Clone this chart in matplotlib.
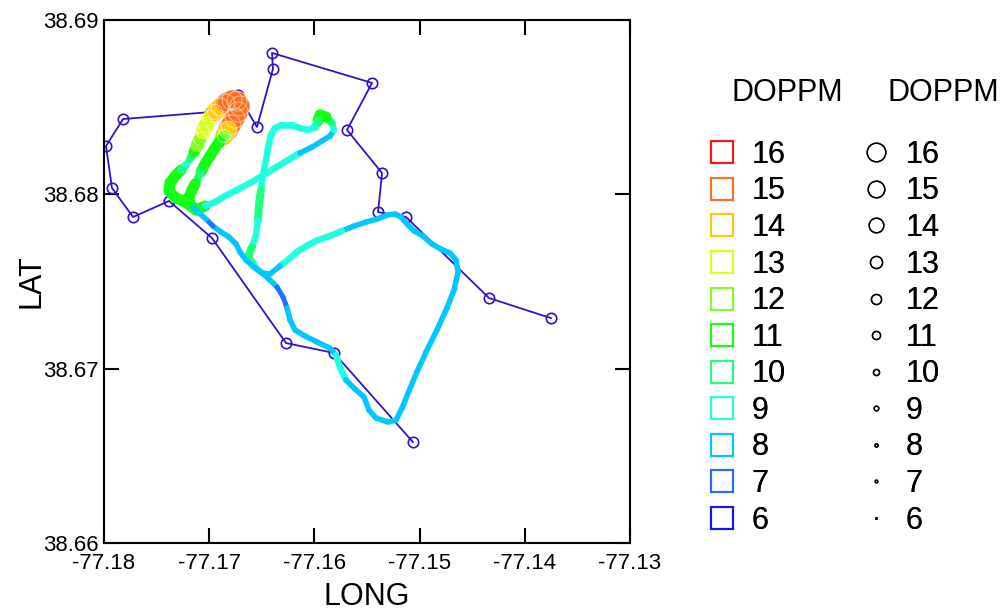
import numpy as np
import matplotlib
matplotlib.use("Agg")
import matplotlib.pyplot as plt
from matplotlib.collections import LineCollection
from matplotlib.lines import Line2D

plt.rcParams['font.family'] = ['Liberation Sans', 'DejaVu Sans']
plt.rcParams['axes.unicode_minus'] = False

# planned route (waypoints)
route_lon = [-77.13751, -77.14340, -77.15129, -77.15395, -77.15357, -77.15690,
             -77.15452, -77.16403, -77.16394, -77.16546, -77.16726, -77.16983,
             -77.17819, -77.17981, -77.17924, -77.17724, -77.17382, -77.16973,
             -77.16270, -77.15814, -77.15063]
route_lat = [38.67290, 38.67405, 38.67870, 38.67898, 38.68122, 38.68369,
             38.68639, 38.68811, 38.68719, 38.68386, 38.68570, 38.68472,
             38.68432, 38.68277, 38.68036, 38.67870, 38.67962, 38.67749,
             38.67147, 38.67090, 38.66579]

# recorded track with DOPPM
trail_lon = [-77.17154, -77.17249, -77.17316, -77.17382, -77.17373, -77.17325, -77.17268,
             -77.17220, -77.17183, -77.17144, -77.17116, -77.17087, -77.17059, -77.17030,
             -77.16992, -77.16945, -77.16897, -77.16840, -77.16783, -77.16736, -77.16707,
             -77.16726, -77.16755, -77.16793, -77.16821, -77.16859, -77.16897, -77.16945,
             -77.16992, -77.17040, -77.17078, -77.17106, -77.17135, -77.17164, -77.17192,
             -77.17183, -77.17125,
             -77.17040, -77.16945, -77.16850, -77.16736, -77.16612, -77.16498, -77.16375,
             -77.16251, -77.16137, -77.16023, -77.15928, -77.15852, -77.15814, -77.15833,
             -77.15890, -77.15947, -77.15966, -77.15994, -77.16061, -77.16137, -77.16213,
             -77.16308, -77.16375, -77.16413, -77.16441, -77.16460, -77.16489, -77.16508,
             -77.16527, -77.16536, -77.16555, -77.16593, -77.16631, -77.16574, -77.16498,
             -77.16422, -77.16355, -77.16298, -77.16260, -77.16232, -77.16184, -77.16089,
             -77.15975, -77.15852, -77.15795, -77.15757, -77.15700, -77.15614, -77.15528,
             -77.15481, -77.15414, -77.15300, -77.15224, -77.15167, -77.15101, -77.15025,
             -77.14939, -77.14835, -77.14740, -77.14673, -77.14635, -77.14654, -77.14711,
             -77.14797, -77.14882, -77.14968, -77.15053, -77.15120, -77.15177, -77.15234,
             -77.15310, -77.15405, -77.15509, -77.15624, -77.15738, -77.15852, -77.15966,
             -77.16061, -77.16156, -77.16241, -77.16327, -77.16422, -77.16498,
             -77.16574, -77.16650, -77.16707, -77.16745, -77.16812, -77.16888, -77.16964,
             -77.17030, -77.17097, -77.17154]
trail_lat = [38.67927, 38.67962, 38.67979, 38.68019, 38.68065, 38.68105, 38.68139,
             38.68168, 38.68203, 38.68243, 38.68277, 38.68317, 38.68357, 38.68398,
             38.68438, 38.68472, 38.68501, 38.68524, 38.68541, 38.68535, 38.68507,
             38.68472, 38.68438, 38.68398, 38.68369, 38.68334, 38.68306, 38.68266,
             38.68220, 38.68174, 38.68128, 38.68094, 38.68059, 38.68025, 38.67985,
             38.67939, 38.67910,
             38.67933, 38.67956, 38.67990, 38.68025, 38.68065, 38.68105, 38.68151,
             38.68197, 38.68237, 38.68271, 38.68306, 38.68334, 38.68369, 38.68409,
             38.68444, 38.68455, 38.68421, 38.68386, 38.68369, 38.68380, 38.68398,
             38.68398, 38.68380, 38.68340, 38.68266, 38.68197, 38.68111, 38.68025,
             38.67939, 38.67853, 38.67767, 38.67698, 38.67640, 38.67589, 38.67549,
             38.67508, 38.67468, 38.67411, 38.67348, 38.67279, 38.67222, 38.67187,
             38.67153, 38.67118, 38.67078, 38.67009, 38.66935, 38.66883, 38.66837,
             38.66762, 38.66717, 38.66694, 38.66705, 38.66774, 38.66872, 38.66981,
             38.67095, 38.67222, 38.67348, 38.67451, 38.67554, 38.67623, 38.67663,
             38.67686, 38.67715, 38.67761, 38.67790, 38.67830, 38.67870, 38.67887,
             38.67881, 38.67858, 38.67841, 38.67818, 38.67790, 38.67761, 38.67738,
             38.67709, 38.67675, 38.67629, 38.67589, 38.67543, 38.67549,
             38.67583, 38.67623, 38.67669, 38.67715, 38.67755, 38.67784, 38.67818,
             38.67858, 38.67893, 38.67927]
trail_doppm = [11, 11, 11, 11, 11, 11, 10, 9, 9, 10, 11, 12, 12, 13, 13, 13, 14, 14, 15, 15, 15,
               15, 15, 15, 14, 12, 11, 11, 11, 11, 10, 9, 10, 11, 11, 11, 11,
               9, 9, 9, 9, 9, 9, 9, 9, 8, 8, 8, 8, 8, 9, 10, 11, 10, 9, 9, 9, 9,
               9, 9, 9, 9, 9, 9, 9, 10, 9, 9, 9, 10, 9, 8,
               8, 7, 7, 7, 8, 8, 8, 8, 8, 8, 9, 8, 8, 8, 8, 8, 8, 8, 8, 7, 8,
               7, 8, 8, 8, 8, 8, 8, 8, 8, 7, 8, 8, 8, 8, 7, 8, 8, 8, 8, 9, 9,
               9, 9, 9, 8, 8, 8,
               8, 8, 7, 8, 7, 8, 7, 7, 8, 8]

levels = [16, 15, 14, 13, 12, 11, 10, 9, 8, 7, 6]
xticks = [-77.18, -77.17, -77.16, -77.15, -77.14, -77.13]
yticks = [38.66, 38.67, 38.68, 38.69]

# styles
level_color = {16: '#ff1414', 15: '#ff7020', 14: '#ffc810', 13: '#d8ff14', 12: '#80ff20',
               11: '#14ff14', 10: '#20ff80', 9: '#20ffe0', 8: '#00c8ff', 7: '#2070ff',
               6: '#1414ff'}
level_diam = {16: 20, 15: 18, 14: 16, 13: 13.5, 12: 11.5, 11: 9.5, 10: 7.5, 9: 6,
              8: 4.5, 7: 4, 6: 3}  # pixels
trail_width = {16: 20, 15: 20, 14: 18, 13: 15, 12: 13, 11: 11, 10: 8, 9: 6.5,
               8: 5.5, 7: 5, 6: 4}  # pixels
route_color = '#3311cc'
PX = 0.72

fig = plt.figure(figsize=(10.02, 6.11), dpi=100)
ax = fig.add_axes([104 / 1002, 1 - 543 / 611, 526 / 1002, 523 / 611])

ax.plot(route_lon, route_lat, color=route_color, lw=1.3, marker='o', ms=7.5,
        mfc='none', mec=route_color, mew=1.2, zorder=2)

pts = np.column_stack([trail_lon, trail_lat])
v = np.array(trail_doppm)
segs = np.stack([pts[:-1], pts[1:]], axis=1)
sv = np.maximum(v[:-1], v[1:])
lc = LineCollection(segs, colors=[level_color[k] for k in sv],
                    linewidths=[trail_width[k] * PX for k in sv],
                    capstyle='round', joinstyle='round', zorder=3)
ax.add_collection(lc)
big = v >= 12
ax.scatter(np.array(trail_lon)[big], np.array(trail_lat)[big],
           s=[(trail_width[k] * PX) ** 2 for k in v[big]],
           facecolors='none', edgecolors='white', linewidths=0.6, alpha=0.6, zorder=4)

ax.set_xlim(-77.18, -77.13)
ax.set_ylim(38.66, 38.69)
ax.set_xticks(xticks)
ax.set_xticklabels(['%.2f' % t for t in xticks])
ax.set_yticks(yticks)
ax.set_yticklabels(['%.2f' % t for t in yticks])
ax.tick_params(direction='in', length=10.8, width=1.5, top=True, right=True,
               labelsize=16)
ax.tick_params(axis='x', pad=7)
ax.tick_params(axis='y', pad=4)
for s in ax.spines.values():
    s.set_linewidth(1.5)

ax.set_xlabel('LONG', fontsize=22)
ax.set_ylabel('LAT', fontsize=22)
ax.xaxis.set_label_coords(0.5, -0.075)
ax.yaxis.set_label_coords(-0.11, 0.5)

sq_handles = [Line2D([], [], ls='none', marker='s', mfc='none', mec=level_color[k],
                     ms=15.5, mew=1.5) for k in levels]
ci_handles = [Line2D([], [], ls='none', marker='o', mfc='none', mec='black',
                     ms=max(level_diam[k] * PX - 1, 1.2), mew=1.0) for k in levels]
labels = [str(k) for k in levels]

for x0, handles in [(0.706, sq_handles), (0.8597, ci_handles)]:
    leg = fig.legend(handles, labels, loc='upper left', bbox_to_anchor=(x0, 0.771),
                     frameon=False, fontsize=22, handlelength=0.95, handletextpad=0.5,
                     labelspacing=0.215, borderpad=0, borderaxespad=0)
    fig.add_artist(leg)
fig.text(732 / 1002, 1 - 93 / 611, 'DOPPM', fontsize=22, ha='left', va='center')
fig.text(887 / 1002, 1 - 93 / 611, 'DOPPM', fontsize=22, ha='left', va='center')

fig.savefig('out.png', dpi=100)
